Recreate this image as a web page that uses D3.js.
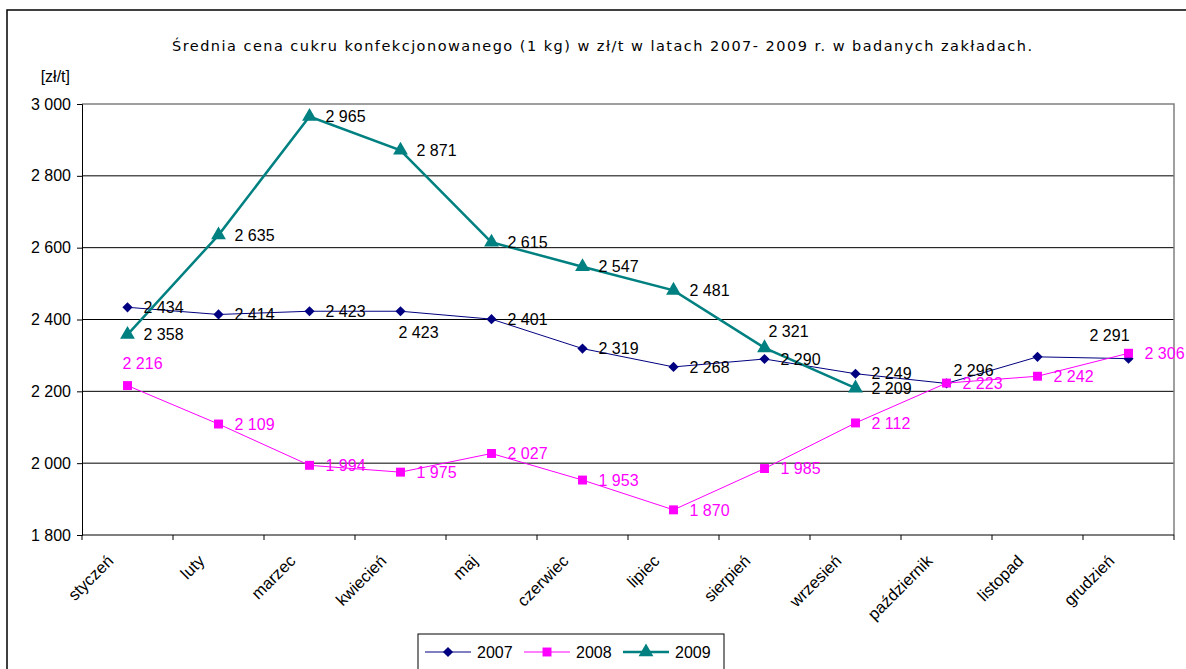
<!DOCTYPE html>
<html lang="pl">
<head>
  <meta charset="UTF-8">
  <title>Średnia cena cukru konfekcjonowanego</title>
  <script src="https://d3js.org/d3.v7.min.js"></script>
  <style>
    body { margin: 0; overflow: hidden; background: #fff; }
    svg { display: block; }
    text { font-family: "Liberation Sans", Arial, sans-serif; }
  </style>
</head>
<body>
  <svg id="chart"></svg>
  <script>
    // Data
    const months = ["styczeń", "luty", "marzec", "kwiecień", "maj", "czerwiec",
                    "lipiec", "sierpień", "wrzesień", "październik", "listopad", "grudzień"];
    const years = ["2007", "2008", "2009"];
    const v2007 = [2434, 2414, 2423, 2423, 2401, 2319, 2268, 2290, 2249, 2222, 2296, 2291];
    const v2008 = [2216, 2109, 1994, 1975, 2027, 1953, 1870, 1985, 2112, 2223, 2242, 2306];
    const v2009 = [2358, 2635, 2965, 2871, 2615, 2547, 2481, 2321, 2209];
    const yTicks = [1800, 2000, 2200, 2400, 2600, 2800, 3000];

    const width = 1186, height = 669;
    const plot = { left: 82, right: 1174, top: 104, bottom: 535 };

    const svg = d3.select("#chart").attr("width", width).attr("height", height);

    const fmt = d3.formatLocale({ thousands: " ", grouping: [3], decimal: ",", currency: ["", ""] }).format(",");

    const x = d3.scaleBand().domain(months).range([plot.left, plot.right]);
    const y = d3.scaleLinear().domain([1800, 3000]).range([plot.bottom, plot.top]);

    // outer chart border
    svg.append("rect")
      .attr("x", 7).attr("y", 10).attr("width", 1200).attr("height", 700)
      .attr("fill", "none").attr("stroke", "#000").attr("stroke-width", 1.5);

    // title
    svg.append("text")
      .attr("x", 172).attr("y", 51)
      .attr("textLength", 860).attr("lengthAdjust", "spacing")
      .style("font-family", "'DejaVu Sans', sans-serif")
      .style("font-size", "14.5px")
      .text("Średnia cena cukru konfekcjonowanego (1 kg) w zł/t w latach 2007- 2009 r. w badanych zakładach.");

    svg.append("text")
      .attr("x", 70).attr("y", 82).attr("text-anchor", "end")
      .style("font-size", "16px")
      .text("[zł/t]");

    // gridlines
    svg.append("g").selectAll("line")
      .data(yTicks.filter(d => d > 1800 && d < 3000))
      .join("line")
      .attr("x1", plot.left).attr("x2", plot.right)
      .attr("y1", d => y(d)).attr("y2", d => y(d))
      .attr("stroke", "#000").attr("stroke-width", 1);

    // plot area border (top & right in gray)
    svg.append("path")
      .attr("d", `M${plot.left},${plot.top}H${plot.right}V${plot.bottom}`)
      .attr("fill", "none").attr("stroke", "#808080").attr("stroke-width", 1.5);

    // y axis
    const yAxis = svg.append("g")
      .attr("transform", `translate(${plot.left},0)`)
      .call(d3.axisLeft(y).tickValues(yTicks).tickSize(5).tickPadding(6).tickFormat(fmt));
    yAxis.select(".domain").attr("stroke", "#000");
    yAxis.selectAll("text").style("font-size", "16px").attr("fill", "#000")
      .style("font-family", "'Liberation Sans', Arial, sans-serif");

    // x axis: ticks at category boundaries
    const xAxisG = svg.append("g").attr("transform", `translate(0,${plot.bottom})`);
    xAxisG.append("line")
      .attr("x1", plot.left).attr("x2", plot.right)
      .attr("stroke", "#000");
    const boundaries = months.map(m => x(m)).concat([plot.right]);
    xAxisG.selectAll("line.tick")
      .data(boundaries)
      .join("line").attr("class", "tick")
      .attr("x1", d => d).attr("x2", d => d)
      .attr("y1", 0).attr("y2", 5)
      .attr("stroke", "#000");
    xAxisG.selectAll("text")
      .data(months)
      .join("text")
      .attr("text-anchor", "end")
      .attr("transform", d => `translate(${x(d) + x.bandwidth() / 2 - 13},${27}) rotate(-45)`)
      .style("font-size", "16.5px")
      .text(d => d);

    const series = [
      { year: "2007", values: v2007, color: "#000080", width: 1, shape: d3.symbolSquare, rot: 45, size: 52, label: "#000" },
      { year: "2008", values: v2008, color: "#FF00FF", width: 1, shape: d3.symbolSquare, rot: 0, size: 80, label: "#FF00FF" },
      { year: "2009", values: v2009, color: "#008080", width: 2.5, shape: d3.symbolTriangle, rot: 0, size: 95, label: "#000" }
    ];

    // label offsets for labels not placed to the right of the point
    const labelOffset = {
      "2007-3": [-2, 21], "2007-9": null, "2007-10": [-84, 13], "2007-11": [-39, -23],
      "2008-0": [-5, -22],
      "2009-7": [4, -17]
    };

    const cx = i => x(months[i]) + x.bandwidth() / 2;
    const line = d3.line().x((d, i) => cx(i)).y(d => y(d));

    series.forEach(s => {
      svg.append("path")
        .datum(s.values)
        .attr("d", line)
        .attr("fill", "none")
        .attr("stroke", s.color)
        .attr("stroke-width", s.width);
      svg.append("g").selectAll("path")
        .data(s.values)
        .join("path")
        .attr("d", d3.symbol().type(s.shape).size(s.size))
        .attr("transform", (d, i) => `translate(${cx(i)},${y(d)}) rotate(${s.rot})`)
        .attr("fill", s.color);
    });

    series.forEach(s => {
      svg.append("g").selectAll("text")
        .data(s.values.map((v, i) => ({ v, i })).filter(d => labelOffset[s.year + "-" + d.i] !== null))
        .join("text")
        .attr("x", d => cx(d.i) + (labelOffset[s.year + "-" + d.i] || [16, 0])[0])
        .attr("y", d => y(d.v) + (labelOffset[s.year + "-" + d.i] || [16, 0])[1])
        .attr("dy", "0.36em")
        .attr("fill", s.label)
        .style("font-size", "16px")
        .text(d => fmt(d.v));
    });

    // legend
    const lg = svg.append("g");
    lg.append("rect")
      .attr("x", 418).attr("y", 634).attr("width", 306).attr("height", 60)
      .attr("fill", "#fff").attr("stroke", "#000").attr("stroke-width", 1);
    const legendX = d3.scalePoint().domain(years).range([425, 623]);
    series.forEach(s => {
      const lx = legendX(s.year);
      lg.append("line")
        .attr("x1", lx).attr("x2", lx + 46).attr("y1", 652).attr("y2", 652)
        .attr("stroke", s.color).attr("stroke-width", s.width);
      lg.append("path")
        .attr("d", d3.symbol().type(s.shape).size(s.size))
        .attr("transform", `translate(${lx + 23},652) rotate(${s.rot})`)
        .attr("fill", s.color);
      lg.append("text")
        .attr("x", lx + 52).attr("y", 652).attr("dy", "0.36em")
        .style("font-size", "16px")
        .text(s.year);
    });
  </script>
</body>
</html>
